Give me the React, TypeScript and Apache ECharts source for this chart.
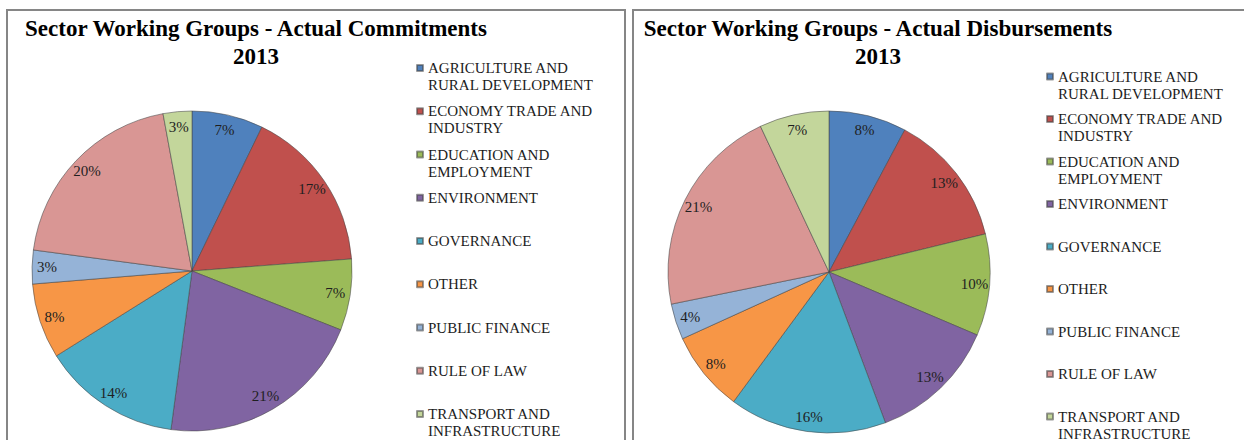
import React, { useEffect, useRef } from "react";
import * as echarts from "echarts";

const sectors = [
  "AGRICULTURE AND RURAL DEVELOPMENT",
  "ECONOMY TRADE AND INDUSTRY",
  "EDUCATION AND EMPLOYMENT",
  "ENVIRONMENT",
  "GOVERNANCE",
  "OTHER",
  "PUBLIC FINANCE",
  "RULE OF LAW",
  "TRANSPORT AND INFRASTRUCTURE",
];
const legendLabels = [
  "AGRICULTURE AND\nRURAL DEVELOPMENT",
  "ECONOMY TRADE AND\nINDUSTRY",
  "EDUCATION AND\nEMPLOYMENT",
  "ENVIRONMENT",
  "GOVERNANCE",
  "OTHER",
  "PUBLIC FINANCE",
  "RULE OF LAW",
  "TRANSPORT AND\nINFRASTRUCTURE",
];
const commitments = [7.2, 16.6, 7.2, 21.1, 14.0, 7.6, 3.4, 20.0, 2.9];
const disbursements = [7.8, 13.4, 10.2, 12.9, 15.8, 8.1, 3.6, 21.2, 7.0];
const colors = ["#4F81BD", "#C0504D", "#9BBB59", "#8064A2", "#4BACC6", "#F79646", "#95B3D7", "#D99694", "#C3D69B"];
const titles = ["Sector Working Groups - Actual Commitments\n2013", "Sector Working Groups - Actual Disbursements\n2013"];

const SERIF = '"Liberation Serif", "Times New Roman", serif';

export default function App() {
  const ref = useRef<HTMLDivElement>(null);
  useEffect(() => {
    if (!ref.current) return;
    const chart = echarts.init(ref.current, null, { renderer: "svg" });
    const LH = 17;
    const labelMap: Record<string, string> = {};
    // each legend entry is three lines tall; the first text line sits level with the icon
    sectors.forEach((s, i) => {
      const l = legendLabels[i];
      labelMap[s] = l.includes("\n") ? " \n" + l : " \n" + l + "\n ";
    });
    const mkLegend = (left: number, top: number, gap: number) => ({
      orient: "vertical",
      left,
      top,
      height: 700,
      padding: 0,
      itemGap: gap,
      itemWidth: 6,
      itemHeight: 6,
      icon: "rect",
      selectedMode: false,
      data: sectors,
      formatter: (n: string) => labelMap[n],
      textStyle: {
        fontFamily: SERIF,
        fontSize: 15,
        lineHeight: LH,
        color: "#1c1c1c",
      },
    });
    const mkData = (vals: number[]) => sectors.map((name, i) => ({ name, value: vals[i] }));
    const mkPies = (vals: number[], cx: number, cy: number, r: number) => [
      {
        type: "pie",
        center: [cx, cy],
        radius: [0, r],
        startAngle: 90,
        clockwise: true,
        label: { show: false },
        labelLine: { show: false },
        itemStyle: { borderColor: "rgba(70,70,70,0.55)", borderWidth: 1 },
        data: mkData(vals),
        silent: true,
      },
      {
        type: "pie",
        center: [cx, cy],
        radius: [r - 36, r],
        startAngle: 90,
        clockwise: true,
        z: 5,
        silent: true,
        itemStyle: { color: "rgba(0,0,0,0)", borderWidth: 0 },
        label: {
          show: true,
          position: "inside",
          formatter: (p: any) => Math.round(p.percent) + "%",
          fontFamily: SERIF,
          fontSize: 15,
          color: "#1f1f1f",
        },
        labelLine: { show: false },
        data: mkData(vals),
      },
    ];
    chart.setOption({
      animation: false,
      backgroundColor: "#ffffff",
      color: colors,
      title: [
        {
          text: titles[0],
          left: 256,
          top: 14,
          padding: 0,
          textAlign: "center",
          textStyle: { fontFamily: SERIF, fontSize: 23, fontWeight: "bold", lineHeight: 28, color: "#000" },
        },
        {
          text: titles[1],
          left: 878,
          top: 14,
          padding: 0,
          textAlign: "center",
          textStyle: { fontFamily: SERIF, fontSize: 23, fontWeight: "bold", lineHeight: 28, color: "#000" },
        },
      ],
      legend: [mkLegend(416, 42.5, -7.75), mkLegend(1046, 51, -8.5)],
      graphic: [
        { type: "rect", shape: { x: 7, y: 10, width: 618, height: 460 }, style: { fill: "none", stroke: "#868686", lineWidth: 2 }, z: 0 },
        { type: "rect", shape: { x: 633, y: 10, width: 630, height: 460 }, style: { fill: "none", stroke: "#868686", lineWidth: 2 }, z: 0 },
      ],
      series: [...mkPies(commitments, 192, 271, 160), ...mkPies(disbursements, 829, 272, 161)],
    });
    return () => chart.dispose();
  }, []);
  return <div ref={ref} style={{ position: "absolute", left: 0, top: 0, width: 1244, height: 440 }} />;
}
